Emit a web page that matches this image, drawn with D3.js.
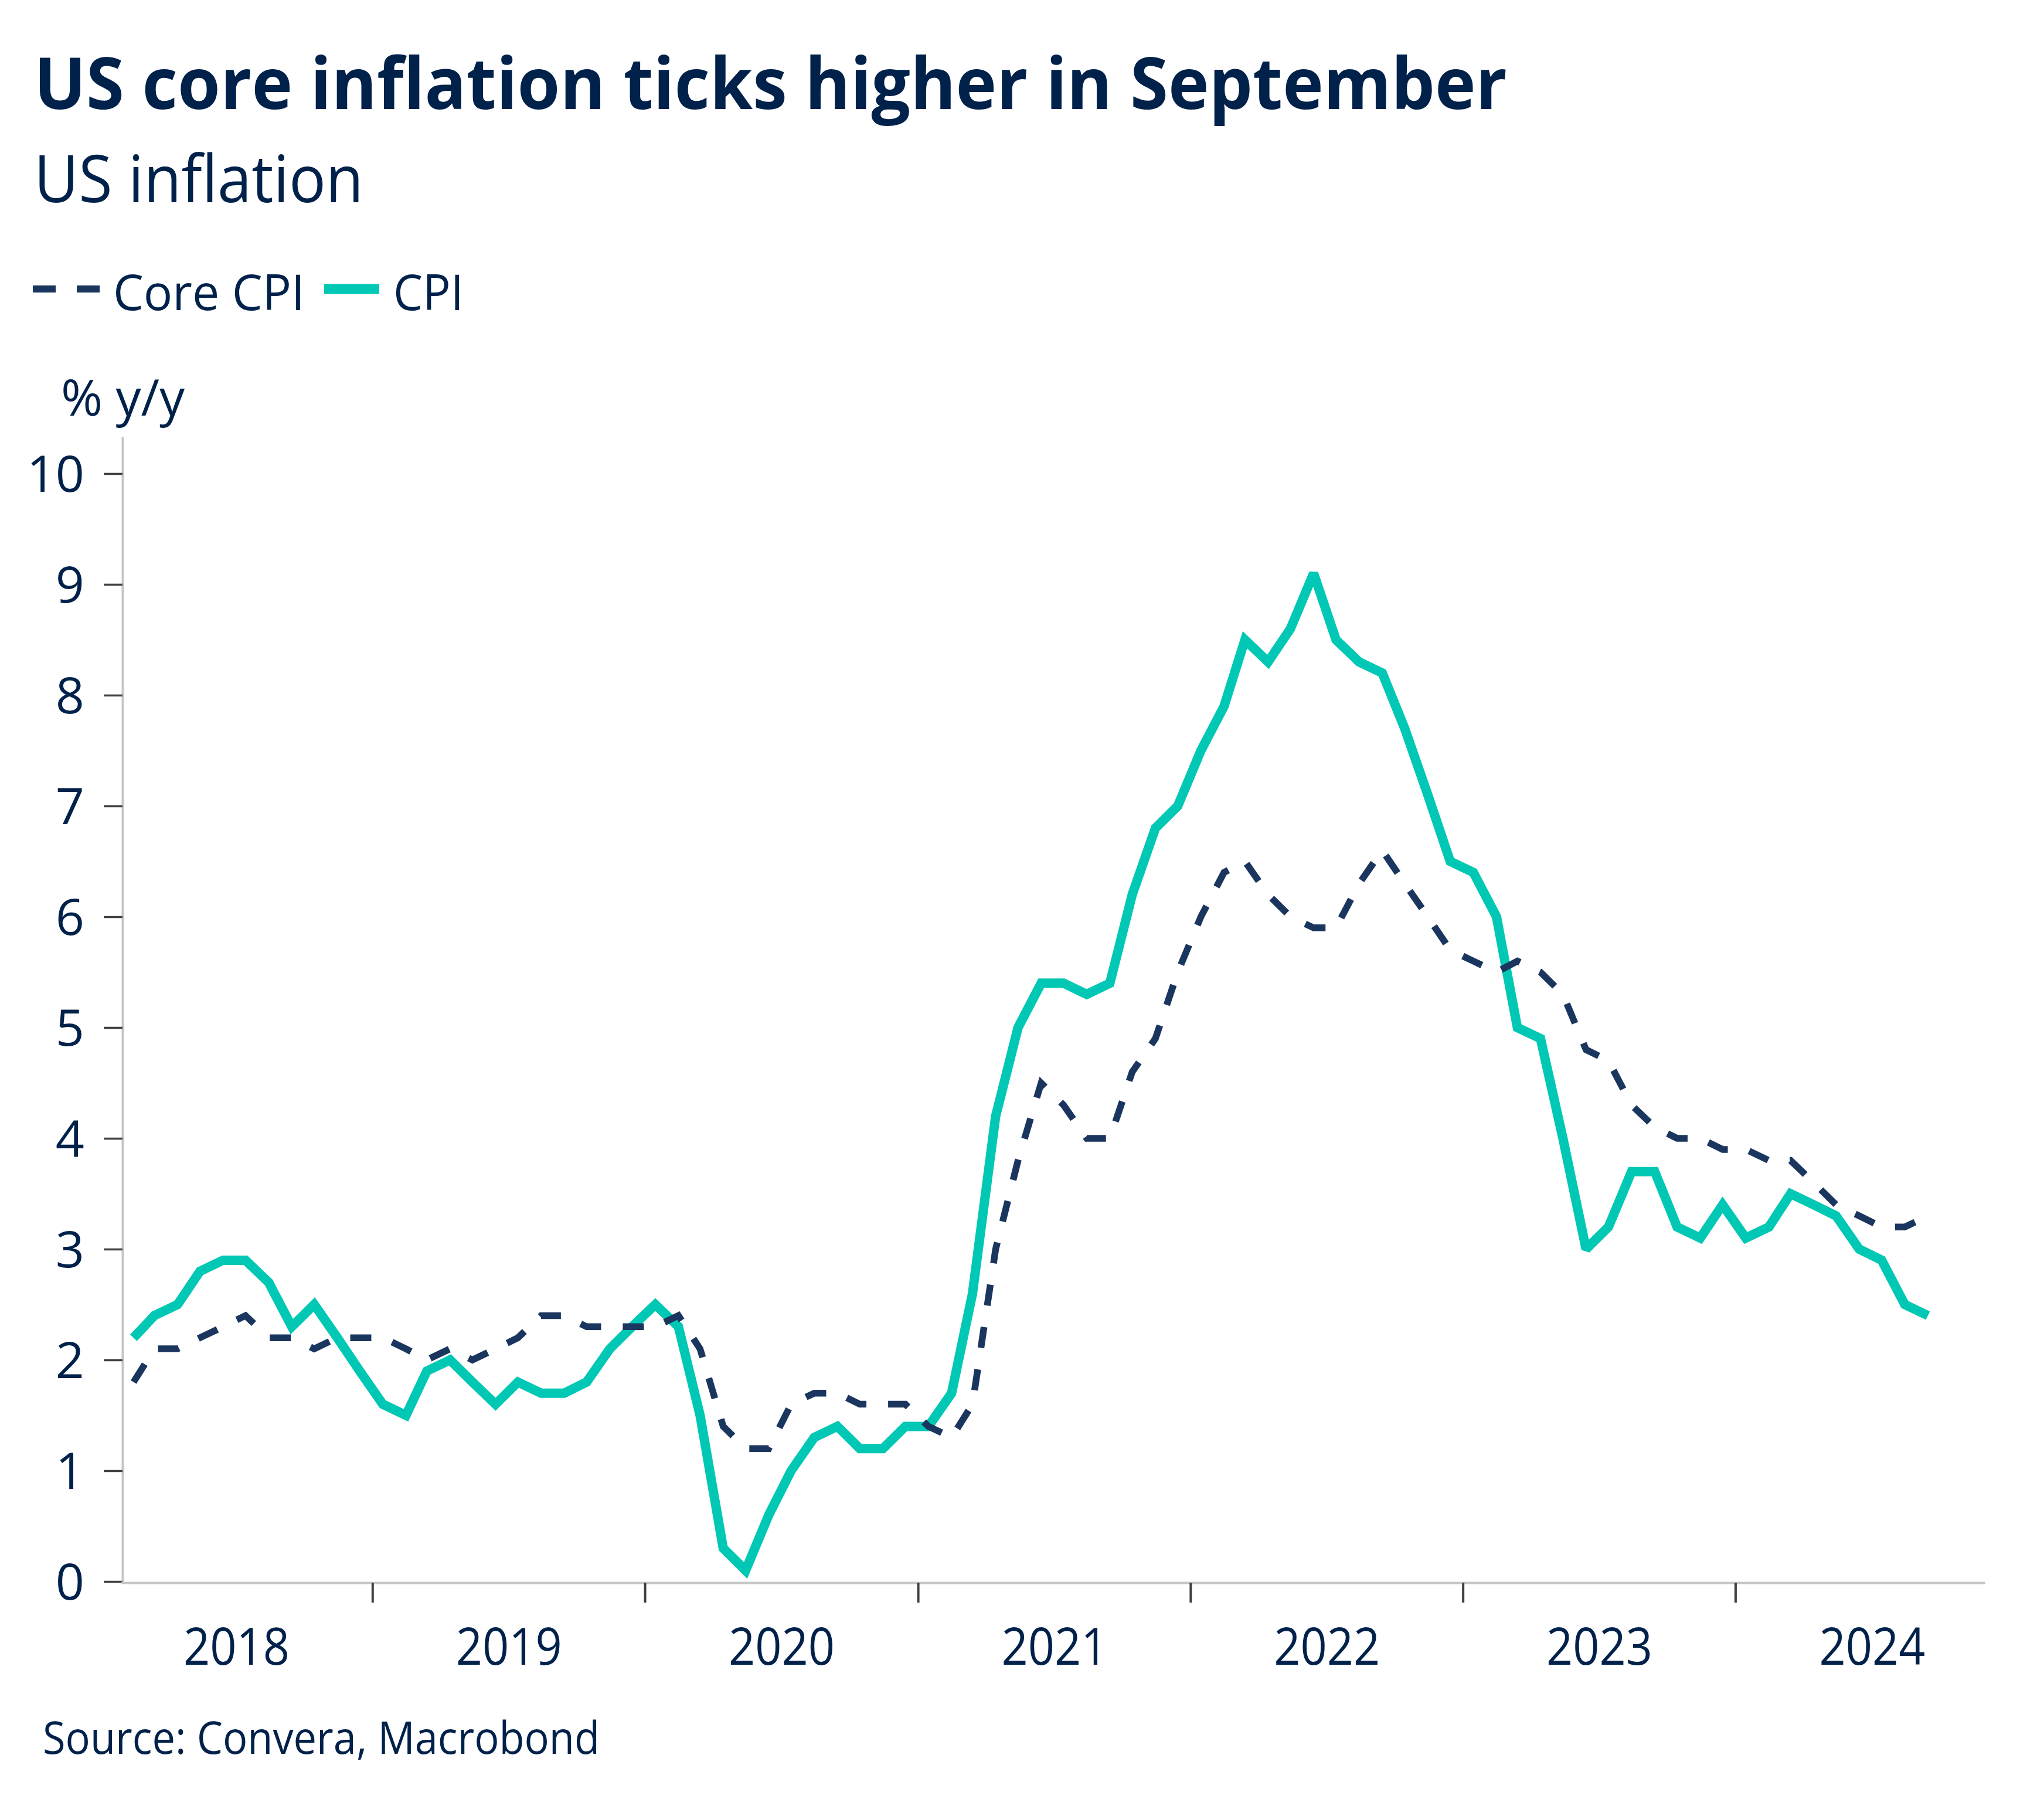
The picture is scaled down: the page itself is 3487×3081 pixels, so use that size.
<!DOCTYPE html>
<html>
<head>
<meta charset="utf-8">
<script src="https://cdn.jsdelivr.net/npm/d3@7"></script>
<style>
  html, body { margin: 0; padding: 0; background: #ffffff; }
  svg { display: block; }
  text { font-family: "Open Sans", "Noto Sans", sans-serif; fill: #00214a; }
</style>
</head>
<body>
<svg id="chart" width="3487" height="3081"></svg>
<script>
// ---------------- DATA ----------------
const months = [
  "2018-02","2018-03","2018-04","2018-05","2018-06","2018-07","2018-08","2018-09","2018-10","2018-11","2018-12",
  "2019-01","2019-02","2019-03","2019-04","2019-05","2019-06","2019-07","2019-08","2019-09","2019-10","2019-11","2019-12",
  "2020-01","2020-02","2020-03","2020-04","2020-05","2020-06","2020-07","2020-08","2020-09","2020-10","2020-11","2020-12",
  "2021-01","2021-02","2021-03","2021-04","2021-05","2021-06","2021-07","2021-08","2021-09","2021-10","2021-11","2021-12",
  "2022-01","2022-02","2022-03","2022-04","2022-05","2022-06","2022-07","2022-08","2022-09","2022-10","2022-11","2022-12",
  "2023-01","2023-02","2023-03","2023-04","2023-05","2023-06","2023-07","2023-08","2023-09","2023-10","2023-11","2023-12",
  "2024-01","2024-02","2024-03","2024-04","2024-05","2024-06","2024-07","2024-08","2024-09"
];
const coreCPI = [
  1.8,2.1,2.1,2.2,2.3,2.4,2.2,2.2,2.1,2.2,2.2,
  2.2,2.1,2.0,2.1,2.0,2.1,2.2,2.4,2.4,2.3,2.3,2.3,
  2.3,2.4,2.1,1.4,1.2,1.2,1.6,1.7,1.7,1.6,1.6,1.6,
  1.4,1.3,1.6,3.0,3.8,4.5,4.3,4.0,4.0,4.6,4.9,5.5,
  6.0,6.4,6.5,6.2,6.0,5.9,5.9,6.3,6.6,6.3,6.0,5.7,
  5.6,5.5,5.6,5.5,5.3,4.8,4.7,4.3,4.1,4.0,4.0,3.9,
  3.9,3.8,3.8,3.6,3.4,3.3,3.2,3.2,3.3
];
const cpi = [
  2.2,2.4,2.5,2.8,2.9,2.9,2.7,2.3,2.5,2.2,1.9,
  1.6,1.5,1.9,2.0,1.8,1.6,1.8,1.7,1.7,1.8,2.1,2.3,
  2.5,2.3,1.5,0.3,0.1,0.6,1.0,1.3,1.4,1.2,1.2,1.4,
  1.4,1.7,2.6,4.2,5.0,5.4,5.4,5.3,5.4,6.2,6.8,7.0,
  7.5,7.9,8.5,8.3,8.6,9.1,8.5,8.3,8.2,7.7,7.1,6.5,
  6.4,6.0,5.0,4.9,4.0,3.0,3.2,3.7,3.7,3.2,3.1,3.4,
  3.1,3.2,3.5,3.4,3.3,3.0,2.9,2.5,2.4
];
const yTicks = [0,1,2,3,4,5,6,7,8,9,10];
const yearLabels = ["2018","2019","2020","2021","2022","2023","2024"];
const yearBoundaries = ["2019","2020","2021","2022","2023","2024"];
const seriesNames = ["Core CPI","CPI"];

// ---------------- SETUP ----------------
const svg = d3.select("#chart");
svg.append("rect").attr("width",3487).attr("height",3081).attr("fill","#ffffff");

const navy = "#1b365e";
const teal = "#00c8b4";
const textColor = "#00214a";

const parseMonth = d3.timeParse("%Y-%m");
const midMonth = m => { const d = parseMonth(m); return new Date(d.getFullYear(), d.getMonth(), 15); };

const x = d3.scaleTime()
  .domain([new Date(2018,1,1), new Date(2024,11,1)])
  .range([210, 3387]);
const y = d3.scaleLinear()
  .domain([0, 10.333])
  .range([2698, 745]);

// ---------------- AXES ----------------
const yAxis = d3.axisLeft(y).tickValues(yTicks).tickSize(32).tickSizeOuter(0).tickPadding(33)
  .tickFormat(d3.format("d"));
const gy = svg.append("g").attr("transform","translate(209,0)").call(yAxis);
gy.select(".domain").attr("stroke","#c6c6c6").attr("stroke-width",4);
gy.selectAll(".tick line").attr("stroke","#404040").attr("stroke-width",3.5);
gy.selectAll(".tick text").attr("font-size",86).attr("fill",textColor)
  .attr("font-family","'Open Sans', sans-serif").attr("dy","0.36em");

const xAxis = d3.axisBottom(x)
  .tickValues(yearBoundaries.map(s => new Date(+s,0,1)))
  .tickSize(34).tickSizeOuter(0).tickFormat("");
const gx = svg.append("g").attr("transform","translate(0,2700)").call(xAxis);
gx.select(".domain").attr("stroke","#c6c6c6").attr("stroke-width",4).attr("d","M207,0.5H3387");
gx.selectAll(".tick line").attr("stroke","#404040").attr("stroke-width",4);

svg.append("g").selectAll("text").data(yearLabels).join("text")
  .attr("x", d => (x(new Date(+d,0,1)) + x(new Date(+d+1,0,1))) / 2 - 90)
  .attr("y", 2840)
  .attr("font-size",88)
  .attr("fill",textColor)
  .attr("textLength",181).attr("lengthAdjust","spacingAndGlyphs")
  .text(d => d);

// ---------------- LINES ----------------
const line = d3.line().x((d,i) => x(midMonth(months[i]))).y(d => y(d));

svg.append("path").datum(cpi)
  .attr("d", line).attr("fill","none")
  .attr("stroke",teal).attr("stroke-width",16)
  .attr("stroke-linejoin","miter").attr("stroke-miterlimit",2);

svg.append("path").datum(coreCPI)
  .attr("d", line).attr("fill","none")
  .attr("stroke",navy).attr("stroke-width",11.5)
  .attr("stroke-dasharray","36,37")
  .attr("stroke-linejoin","miter").attr("stroke-miterlimit",2);

// ---------------- TEXT ----------------
function fitText(sel, w) { sel.attr("textLength", w).attr("lengthAdjust","spacingAndGlyphs"); }

fitText(svg.append("text").attr("x",58).attr("y",186)
  .attr("font-size",122).attr("font-weight",700).attr("fill",textColor)
  .text("US core inflation ticks higher in September"), 2513);

fitText(svg.append("text").attr("x",58).attr("y",345)
  .attr("font-size",112).attr("font-weight",400).attr("fill",textColor)
  .text("US inflation"), 562);

// legend
svg.append("line").attr("x1",56).attr("x2",170).attr("y1",493).attr("y2",493)
  .attr("stroke",navy).attr("stroke-width",12).attr("stroke-dasharray","39,36");
fitText(svg.append("text").attr("x",193).attr("y",529)
  .attr("font-size",84).attr("fill",textColor).text(seriesNames[0]), 327);
svg.append("line").attr("x1",553).attr("x2",647).attr("y1",493).attr("y2",493)
  .attr("stroke",teal).attr("stroke-width",17);
fitText(svg.append("text").attr("x",671).attr("y",529)
  .attr("font-size",84).attr("fill",textColor).text(seriesNames[1]), 120);

// axis unit
svg.append("text").attr("x",104).attr("y",709)
  .attr("font-size",86).attr("fill",textColor).text("% y/y");

// source
fitText(svg.append("text").attr("x",73).attr("y",2992)
  .attr("font-size",76).attr("fill",textColor).text("Source: Convera, Macrobond"), 950);
</script>
</body>
</html>
